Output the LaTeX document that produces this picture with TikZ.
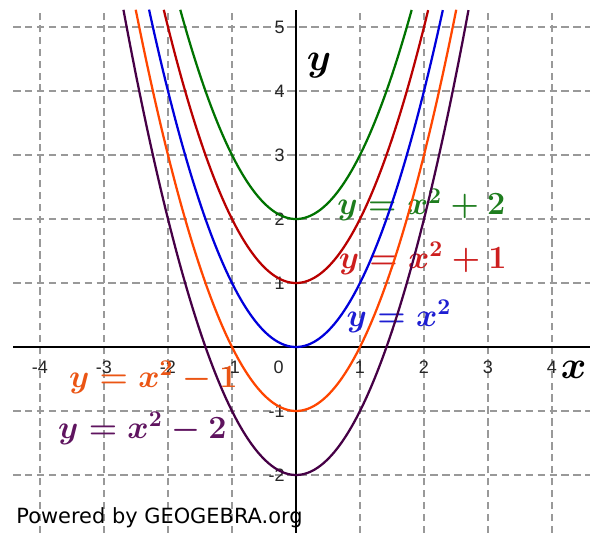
\documentclass[tikz,border=0pt]{standalone}
\usepackage{amsmath}
\usepackage{xcolor}
\usepackage{fontspec}
\newfontfamily\ticksans{Liberation Sans}
\newfontfamily\logosans{DejaVu Sans}
\definecolor{curvegreen}{RGB}{0,115,0}
\definecolor{curvered}{RGB}{185,0,0}
\definecolor{curveblue}{RGB}{0,0,220}
\definecolor{curveorange}{RGB}{255,70,0}
\definecolor{curvepurple}{RGB}{70,0,70}
\definecolor{labgreen}{RGB}{30,125,30}
\definecolor{labred}{RGB}{205,30,30}
\definecolor{labblue}{RGB}{30,30,210}
\definecolor{laborange}{RGB}{235,85,20}
\definecolor{labpurple}{RGB}{95,20,95}

\begin{document}
\begin{tikzpicture}[
  font=\small,
  gridline/.style={black!40,line width=0.6pt,dash pattern=on 3.3pt off 2pt},
  axis/.style={black,line width=1.3pt},
  curve/.style={line width=1pt,samples=120,smooth},
  xtick/.style={font=\fontsize{8}{9}\ticksans,text=black!85,inner sep=0pt},
  ytick/.style={xtick,anchor=east},
  eqlabel/.style={font=\fontsize{14.5}{17}\selectfont\boldmath,inner sep=0pt},
  axlabel/.style={font=\fontsize{19}{22}\selectfont\boldmath,inner sep=0pt},
]
\fill[white] (-4.625,-2.906) rectangle (4.766,5.422);
\useasboundingbox (-4.625,-2.906) rectangle (4.766,5.422);

\draw[gridline] (-4.42,-2.906) grid (4.6,5.27);

\node[xtick] (xm4) at (-4,-0.31)    {-4};
\node[xtick] (xm3) at (-3,-0.31)    {-3};
\node[xtick] (xm2) at (-2,-0.31)    {-2};
\node[xtick] (xm1) at (-1,-0.31)    {-1};
\node[xtick] (x0)  at (-0.27,-0.31) {0};
\node[xtick] (x1)  at (1,-0.31)     {1};
\node[xtick] (x2)  at (2,-0.31)     {2};
\node[xtick] (x3)  at (3,-0.31)     {3};
\node[xtick] (x4)  at (4,-0.31)     {4};
\node[ytick] (y5)  at (-0.17,5)     {5};
\node[ytick] (y4)  at (-0.17,4)     {4};
\node[ytick] (y3)  at (-0.17,3)     {3};
\node[ytick] (y2)  at (-0.17,2)     {2};
\node[ytick] (y1)  at (-0.17,1)     {1};
\node[ytick] (ym1) at (-0.17,-1)    {-1};
\node[ytick] (ym2) at (-0.17,-2)    {-2};

\node[eqlabel,text=labgreen]  (eqplustwo)  at (1.96,2.22)  {$y=x^2+2$};
\node[eqlabel,text=labred]    (eqplusone)  at (1.98,1.39)  {$y=x^2+1$};
\node[eqlabel,text=labblue]   (eqbase)     at (1.61,0.48)  {$y=x^2$};
\node[eqlabel,text=laborange] (eqminusone) at (-2.23,-0.47) {$y=x^2-1$};
\node[eqlabel,text=labpurple] (eqminustwo) at (-2.40,-1.27) {$y=x^2-2$};

\draw[axis] (-4.42,0) -- (4.6,0);
\draw[axis] (0,-2.906) -- (0,5.27);

\node[axlabel] (ylab) at (0.36,4.39)  {$y$};
\node[axlabel] (xlab) at (4.34,-0.36) {$x$};

\draw[curve,curvegreen,domain=-1.808:1.808]  plot (\x,{\x*\x+2});
\draw[curve,curvered,domain=-2.066:2.066]    plot (\x,{\x*\x+1});
\draw[curve,curveblue,domain=-2.296:2.296]   plot (\x,{\x*\x});
\draw[curve,curveorange,domain=-2.504:2.504] plot (\x,{\x*\x-1});
\draw[curve,curvepurple,domain=-2.696:2.696] plot (\x,{\x*\x-2});

\node[anchor=west,inner sep=0pt,font=\fontsize{9.3}{10}\logosans] (logo) at (-4.375,-2.67) {Powered by GEOGEBRA.org};
\end{tikzpicture}
\end{document}
